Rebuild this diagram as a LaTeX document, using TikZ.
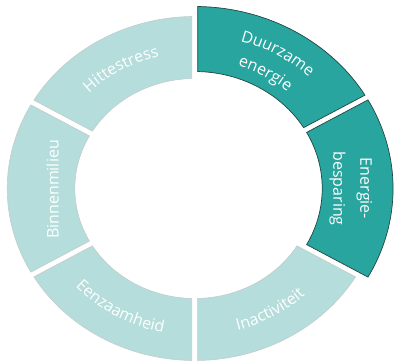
\documentclass[tikz,border=0pt]{standalone}
\usepackage{fontspec}
\setmainfont{Open Sans}
\usetikzlibrary{decorations.text}
\definecolor{lightteal}{RGB}{180,221,219}
\definecolor{darkteal}{RGB}{39,165,158}
\definecolor{lightedge}{RGB}{196,204,204}
\definecolor{darkedge}{RGB}{35,70,68}
\newcommand\lblfont{\fontsize{16}{27}\selectfont}
\def\xf{1.09}
\def\gapd{2.75}
\newcommand\ringseg[5]{%
 \pgfmathsetmacro\segsA{#1+asin(\gapd/#3)}%
 \pgfmathsetmacro\segsB{#2-asin(\gapd/#3)}%
 \pgfmathsetmacro\segtA{#1+asin(\gapd/#4)}%
 \pgfmathsetmacro\segtB{#2-asin(\gapd/#4)}%
 \pgfmathsetmacro\segRx{\xf*#3}%
 \pgfmathsetmacro\segrx{\xf*#4}%
 \draw[#5] (\segsA:\segRx pt and #3 pt) arc[start angle=\segsA, end angle=\segsB, x radius=\segRx pt, y radius=#3 pt]
   -- (\segtB:\segrx pt and #4 pt) arc[start angle=\segtB, end angle=\segtA, x radius=\segrx pt, y radius=#4 pt] -- cycle;}
\newcommand\arctext[4]{%
 \pgfmathsetmacro\segtx{\xf*#3}%
 \path[decorate,decoration={text along path,text={|\lblfont|#4},text align=center,text color=white}]
   (#1:\segtx pt and #3 pt) arc[start angle=#1,end angle=#2,x radius=\segtx pt,y radius=#3 pt];}
\tikzset{
 lightseg/.style={fill=lightteal,draw=lightedge,line width=0.6pt},
 darkseg/.style={fill=darkteal,draw=darkedge,line width=0.7pt},
 lbl/.style={text=white,font=\lblfont,align=center,inner sep=0pt}
}
\begin{document}
\begin{tikzpicture}[x=1pt,y=1pt]
\useasboundingbox (0,0) rectangle (394,364);
\begin{scope}[shift={(194.7,175.5)}]
 \ringseg{90}{150}{172}{110}{lightseg}
 \ringseg{150}{210}{172}{110}{lightseg}
 \ringseg{210}{270}{172}{110}{lightseg}
 \ringseg{270}{330}{172}{110}{lightseg}
 \ringseg{30}{90}{182}{117}{darkseg}
 \ringseg{-30}{30}{182}{117}{darkseg}
 \arctext{150}{90}{136}{Hittestress}
 \arctext{90}{30}{153}{Duurzame}
 \arctext{90}{30}{129}{energie}
 \arctext{-150}{-90}{147}{Eenzaamheid}
 \arctext{-90}{-30}{147}{Inactiviteit}
 \node[lbl,rotate=90] (binnen) at (-142,-1) {Binnenmilieu};
 \node[lbl,rotate=-90] (besp) at (156,0) {Energie-\\besparing};
\end{scope}
\end{tikzpicture}
\end{document}
